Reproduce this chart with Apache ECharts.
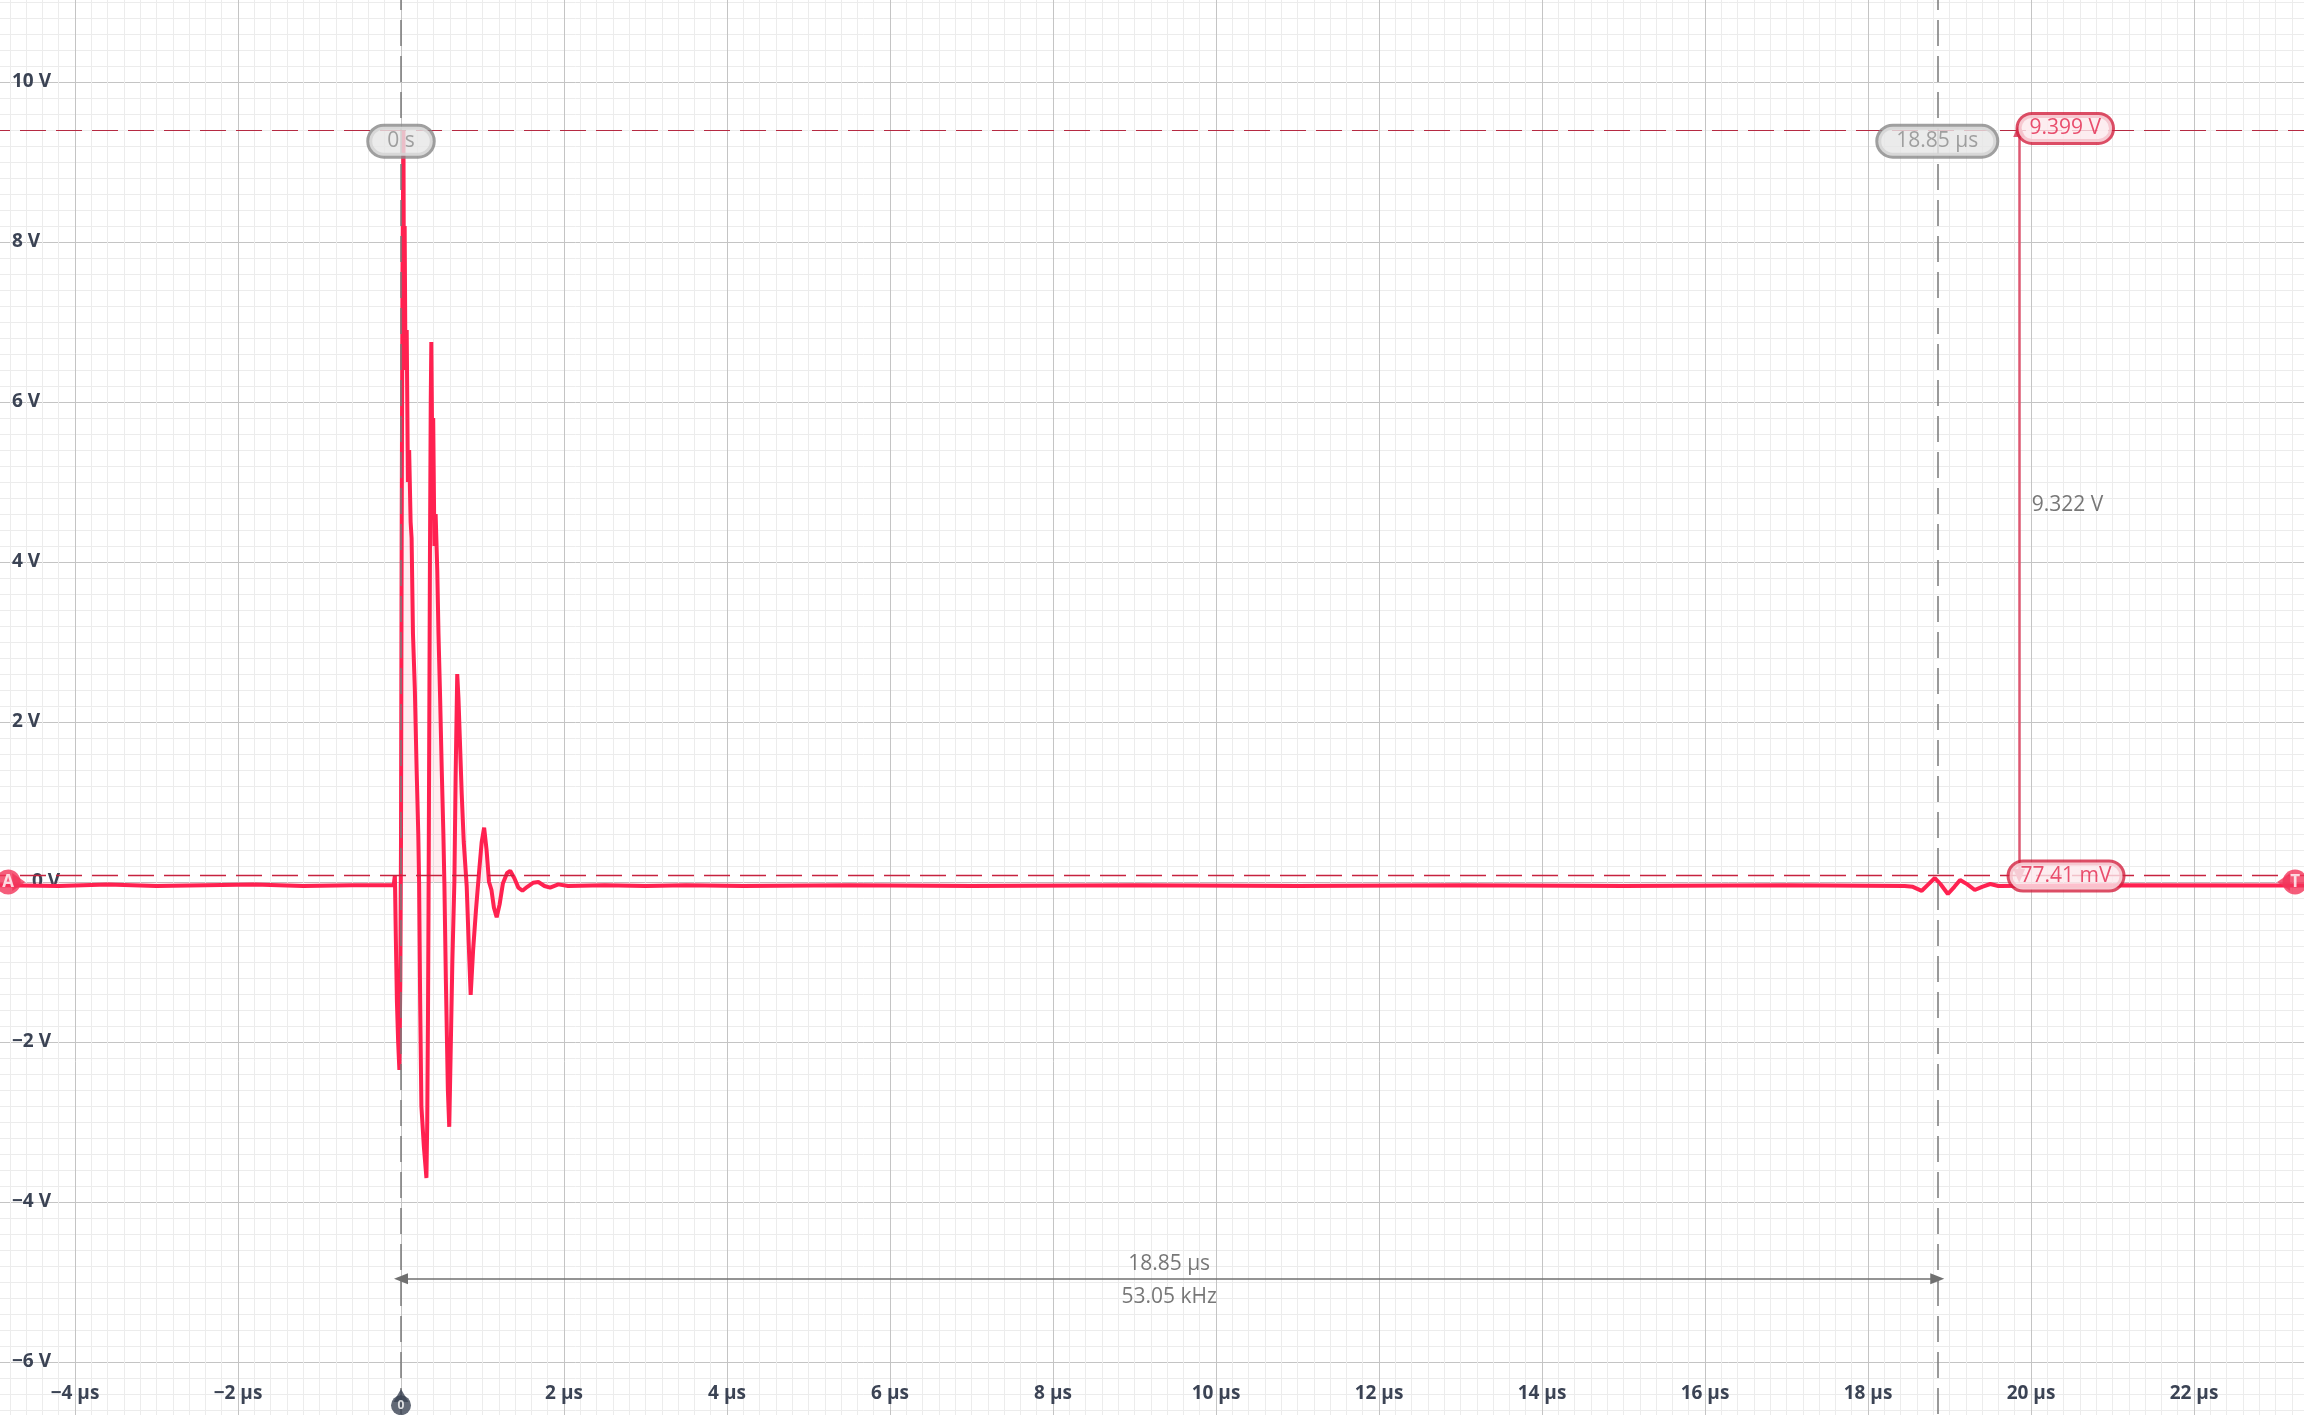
<!DOCTYPE html>
<html>
<head>
<meta charset="utf-8">
<title>Channel A capture</title>
<script src="https://cdn.jsdelivr.net/npm/echarts@6/dist/echarts.min.js"></script>
<style>
  html, body { margin: 0; padding: 0; background: #fff; }
  #chart { width: 2304px; height: 1415px; }
</style>
</head>
<body>
<div id="chart"></div>
<script>
// channel A trace: time in µs, level in V
var timeUs = [
  -4.95, -4.2, -3.6, -3.0, -2.4, -1.8, -1.2, -0.6, -0.09, -0.075, -0.065, -0.05, -0.035, -0.02, -0.008,
  0.0, 0.008, 0.018, 0.03, 0.036, 0.045, 0.055, 0.07, 0.085, 0.1, 0.118, 0.13, 0.147, 0.17, 0.192, 0.212, 0.222,
  0.235, 0.25, 0.28, 0.312, 0.322, 0.331, 0.338,
  0.345, 0.355, 0.365, 0.372, 0.385, 0.395, 0.41, 0.425, 0.445, 0.46, 0.48, 0.5, 0.52, 0.532,
  0.55, 0.575, 0.592, 0.61, 0.63, 0.655,
  0.67, 0.69, 0.705, 0.725, 0.745, 0.77, 0.806,
  0.83, 0.855, 0.885, 0.92, 0.96, 0.99, 1.02, 1.05, 1.08,
  1.11, 1.14, 1.174, 1.21, 1.25, 1.3, 1.34, 1.39, 1.44, 1.49, 1.55, 1.62, 1.685, 1.76, 1.83, 1.93, 2.05,
  2.5, 3.0, 3.5, 4.2, 5.5, 7.0, 9.0, 11.0, 13.0, 15.0, 17.0,
  18.45, 18.55, 18.66, 18.74, 18.82, 18.9, 18.98, 19.06, 19.13, 19.22, 19.31, 19.4, 19.5, 19.6,
  21.0, 23.4
];
var volts = [
  -0.04, -0.05, -0.03, -0.05, -0.04, -0.03, -0.05, -0.04, -0.04, 0.08, -0.6, -1.5, -2.0, -2.35, -1.2,
  0.5, 4.2, 7.6, 9.4, 7.2, 8.2, 6.4, 6.9, 5.0, 5.4, 4.5, 4.3, 3.1, 2.4, 1.4, 0.6, 0.0,
  -1.5, -2.8, -3.3, -3.7, -3.0, -1.7, -0.3,
  1.5, 4.0, 6.0, 6.75, 5.2, 5.8, 4.2, 4.6, 3.9, 3.1, 2.3, 1.4, 0.6, 0.0,
  -1.2, -2.6, -3.06, -2.1, -1.0, 0.0,
  1.3, 2.6, 2.3, 1.7, 1.1, 0.5, -0.05,
  -0.75, -1.41, -0.85, -0.35, 0.15, 0.5, 0.68, 0.4, 0.0,
  -0.1, -0.32, -0.44, -0.28, -0.02, 0.11, 0.14, 0.05, -0.07, -0.11, -0.06, -0.01, 0.0, -0.05, -0.07, -0.03, -0.05,
  -0.04, -0.05, -0.04, -0.05, -0.04, -0.05, -0.04, -0.05, -0.04, -0.05, -0.04,
  -0.05, -0.06, -0.11, -0.03, 0.05, -0.04, -0.15, -0.06, 0.025, -0.03, -0.1, -0.06, -0.025, -0.05,
  -0.04, -0.045
];

// cursors
var timeCursors = [0, 18.85];            // µs
var timeCursorLabels = ['0 s', '18.85 µs'];
var levelCursors = [9.399, 0.07741];     // V
var levelCursorLabels = ['9.399 V', '77.41 mV'];
var deltaLevelLabel = '9.322 V';
var deltaTimeLabels = ['18.85 µs', '53.05 kHz'];
var triggerLevel = 0;                    // V

var ink = '#3b4354';
var trace = '#ff2150';
var pinRed = '#f3345a';

function fmtNum(v) {
  return v < 0 ? '\u2212' + (-v) : String(v);
}

var traceData = timeUs.map(function (t, i) { return [t, volts[i]]; });

function greyPill(text, t, v) {
  return {
    value: [t, v], name: text,
    label: {
      show: true, position: 'inside', formatter: '{b}',
      fontFamily: 'Open Sans', fontSize: 21, lineHeight: 24, color: '#8c8c8c',
      backgroundColor: '#e6e6e6', borderColor: '#878787', borderWidth: 3,
      borderRadius: 17, padding: [3, 18, 2, 18]
    }
  };
}
function redPill(text, t, v) {
  return {
    value: [t, v], name: text,
    label: {
      show: true, position: 'inside', formatter: '{b}',
      fontFamily: 'Open Sans', fontSize: 21, lineHeight: 24, color: '#e4264c',
      backgroundColor: '#fde8ec', borderColor: '#d3213f', borderWidth: 3,
      borderRadius: 17, padding: [2, 11, 1, 11]
    }
  };
}
function plainText(text, t, v, align) {
  return {
    value: [t, v], name: text,
    label: {
      show: true, position: 'inside', formatter: '{b}', align: align || 'center',
      fontFamily: 'Open Sans', fontSize: 21, color: '#555'
    }
  };
}
function pinHead(text, t, v, color, size, fontSize) {
  return {
    value: [t, v], name: text, symbol: 'circle', symbolSize: size,
    itemStyle: { color: color },
    label: { show: true, position: 'inside', formatter: '{b}', color: '#fff',
      fontWeight: 'bold', fontSize: fontSize, fontFamily: 'Open Sans' }
  };
}
function pinTail(t, v, color, size, rotate) {
  return {
    value: [t, v], symbol: 'triangle', symbolSize: size, symbolRotate: rotate,
    itemStyle: { color: color }, label: { show: false }
  };
}

var chart = echarts.init(document.getElementById('chart'));

chart.setOption({
  animation: false,
  backgroundColor: '#ffffff',
  // plot area is larger than the canvas so that whole grid cells line up with the capture
  grid: { left: -88, right: -53, top: -78, bottom: -107, containLabel: false, outerBoundsMode: 'none' },
  xAxis: {
    type: 'value', min: -6, max: 24, interval: 2,
    axisLine: { show: false }, axisTick: { show: false },
    axisLabel: {
      inside: true, margin: 128, verticalAlign: 'middle',
      color: ink, fontSize: 19, fontWeight: 'bold', fontFamily: 'Open Sans',
      formatter: function (v) { return v === 0 ? '' : fmtNum(v) + ' µs'; }
    },
    splitLine: { lineStyle: { color: '#c4c4c4', width: 1 } },
    minorTick: { show: false, splitNumber: 10 },
    minorSplitLine: { show: true, lineStyle: { color: '#ececec', width: 1 } }
  },
  yAxis: {
    type: 'value', min: -8, max: 12, interval: 2,
    axisLine: { show: false }, axisTick: { show: false },
    axisLabel: {
      inside: true, margin: 100, align: 'left',
      color: ink, fontSize: 19, fontWeight: 'bold', fontFamily: 'Open Sans',
      formatter: function (v) {
        return v === 0 ? '{z|0 V}' : fmtNum(v) + ' V';
      },
      rich: { z: { padding: [0, 0, 0, 20], color: ink, fontSize: 19, fontWeight: 'bold', fontFamily: 'Open Sans' } }
    },
    splitLine: { lineStyle: { color: '#c4c4c4', width: 1 } },
    minorTick: { show: false, splitNumber: 10 },
    minorSplitLine: { show: true, lineStyle: { color: '#ececec', width: 1 } }
  },
  series: [
    {
      // cursor lines
      type: 'scatter', data: [], z: 1, silent: true,
      markLine: {
        silent: true, symbol: ['none', 'none'], label: { show: false },
        data: [
          { xAxis: timeCursors[0], lineStyle: { color: '#7a7a7a', width: 1.5, type: [26, 10] } },
          { xAxis: timeCursors[1], lineStyle: { color: '#7a7a7a', width: 1.5, type: [26, 10] } },
          { yAxis: levelCursors[0], lineStyle: { color: '#b52a42', width: 1.2, type: [26, 10] } },
          { yAxis: levelCursors[1], lineStyle: { color: '#c6223f', width: 1.3, type: [26, 10] } }
        ]
      }
    },
    {
      name: 'A', type: 'line', data: traceData, z: 3,
      showSymbol: false, smooth: false, sampling: false,
      lineStyle: { color: trace, width: 4 },
      itemStyle: { color: trace },
      areaStyle: { color: 'rgba(255, 35, 82, 0.11)', origin: 0 }
    },
    {
      // delta measurements
      type: 'scatter', data: [], z: 4, silent: true,
      markLine: {
        silent: true, symbol: ['triangle', 'triangle'], label: { show: false },
        data: [
          [
            { coord: [19.855, levelCursors[1]], symbolSize: [12, 14], lineStyle: { color: '#dc5872', width: 2.5, type: 'solid' }, itemStyle: { color: '#c8163c' } },
            { coord: [19.855, levelCursors[0]], symbolSize: [12, 14] }
          ],
          [
            { coord: [timeCursors[0], -4.96], symbolSize: [11, 14], lineStyle: { color: '#707070', width: 1.5, type: 'solid' }, itemStyle: { color: '#707070' } },
            { coord: [timeCursors[1], -4.96], symbolSize: [11, 14] }
          ]
        ]
      }
    },
    {
      // cursor readouts
      type: 'scatter', z: 6, silent: true, symbolSize: 1, clip: false,
      itemStyle: { color: 'rgba(0,0,0,0)' },
      data: [
        greyPill(timeCursorLabels[0], timeCursors[0], 9.26),
        greyPill(timeCursorLabels[1], timeCursors[1], 9.26),
        redPill(levelCursorLabels[0], 20.42, 9.42),
        redPill(levelCursorLabels[1], 20.43, 0.075),
        plainText(deltaLevelLabel, 20.01, 4.71, 'left'),
        plainText(deltaTimeLabels[0], (timeCursors[0] + timeCursors[1]) / 2, -4.78),
        plainText(deltaTimeLabels[1], (timeCursors[0] + timeCursors[1]) / 2, -5.19)
      ]
    },
    {
      // channel, trigger and time-zero markers
      type: 'scatter', z: 7, silent: true, clip: false,
      data: [
        pinTail(-4.69, triggerLevel, pinRed, [18, 13], -90),
        pinTail(23.1, triggerLevel, pinRed, [18, 13], 90),
        pinTail(timeCursors[0], -6.42, ink, [15, 13], 0),
        pinHead('A', -4.82, triggerLevel, pinRed, 25, 17),
        pinHead('T', 23.24, triggerLevel, pinRed, 25, 17),
        pinHead('0', timeCursors[0], -6.54, ink, 20, 12)
      ]
    }
  ]
});
</script>
</body>
</html>
